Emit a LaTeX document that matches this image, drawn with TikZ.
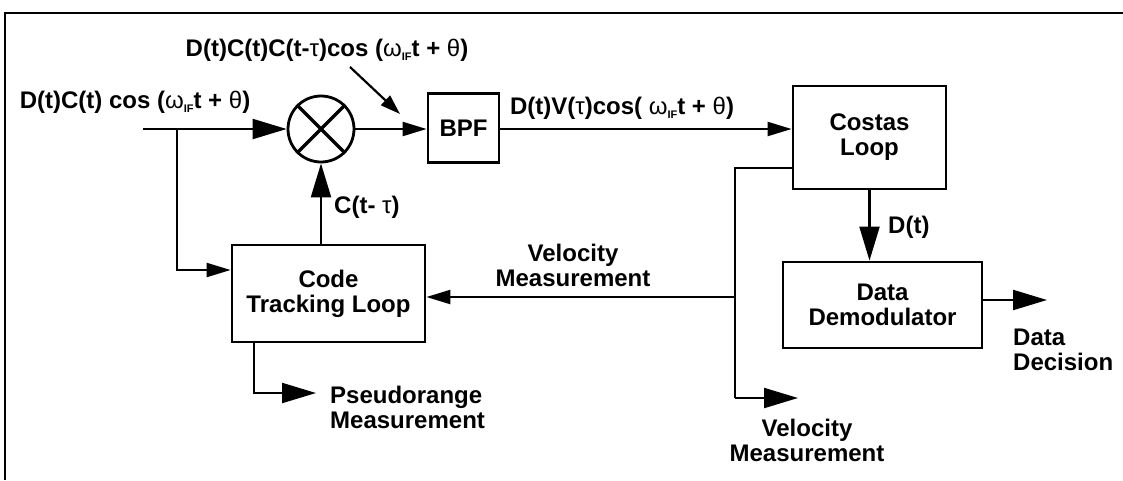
\documentclass[tikz,border=0pt]{standalone}
\usepackage{fontspec}
\setmainfont{Liberation Sans}
\usetikzlibrary{arrows.meta}
\newcommand\wif{{\mdseries ω}\raisebox{-4pt}{\fontsize{11}{11}\selectfont IF}}
\begin{document}
\begin{tikzpicture}[x=1pt,y=-1pt,
  lbl/.style={font=\fontsize{24}{25}\selectfont\bfseries, inner sep=0pt, align=center},
  blk/.style={draw, line width=2.8pt, inner sep=0pt, align=center, font=\fontsize{24}{25}\selectfont\bfseries},
  ln/.style={line width=2.2pt},
  bigarr/.style={-{Triangle[length=34pt,width=20pt]}},
  smallarr/.style={-{Triangle[length=24pt,width=14pt]}},
  medarr/.style={-{Triangle[length=20pt,width=13pt]}}]
\useasboundingbox (0,0) rectangle (1123,480);
% frame
\draw[line width=2.4pt] (5,480) -- (5,13) -- (1123,13);
% blocks
\node[draw, circle, line width=2.8pt, minimum size=66pt, inner sep=0pt] (mul) at (321,129) {};
\draw[line width=3.2pt] (mul.north west) -- (mul.south east) (mul.north east) -- (mul.south west);
\node[blk, minimum width=71pt, minimum height=69pt] (bpf) at (463.5,128) {BPF};
\node[blk, minimum width=153pt, minimum height=103pt] (cost) at (869.5,137.5) {Costas\\Loop};
\node[blk, minimum width=193pt, minimum height=97pt] (code) at (328.5,293.5) {Code\\Tracking Loop};
\node[blk, minimum width=199pt, minimum height=86pt] (demod) at (882.5,305) {Data\\Demodulator};
% labels
\node[lbl] (inlab) at (135,102) {D(t)C(t) cos (\wif t + {\mdseries θ})};
\node[lbl] (toplab) at (327,50) {D(t)C(t)C(t-{\mdseries τ})cos (\wif t + {\mdseries θ})};
\node[lbl] (bpflab) at (622,108) {D(t)V({\mdseries τ})cos( \wif t + {\mdseries θ})};
\node[lbl, anchor=west] (ctau) at (334,207) {C(t- {\mdseries τ})};
\node[lbl] (vel1) at (573,265) {Velocity\\Measurement};
\node[lbl, anchor=west, align=left] (pr) at (330,407) {Pseudorange\\Measurement};
\node[lbl, anchor=west] (dt) at (888,227) {D(t)};
\node[lbl, anchor=west, align=left] (ddec) at (1013,350) {Data\\Decision};
\node[lbl] (vel2) at (807,440) {Velocity\\Measurement};
% coordinates
\coordinate (in) at (143,129);
\coordinate (br) at (177,129);
\coordinate (brd) at (177,270);
\coordinate (pa) at (254,393);
\coordinate (pb) at (316,393);
\coordinate (vb) at (735,168);
\coordinate (vj) at (735,297);
\coordinate (vd) at (735,398);
\coordinate (vo) at (798,398);
\coordinate (dout) at (1047,300);
\coordinate (d1) at (350,67);
\coordinate (d2) at (400,114);
% connectors
\draw[ln,bigarr] (in) -- (mul.west);
\draw[ln,smallarr] (br) -- (brd) -- (brd -| code.west);
\draw[ln,bigarr] (code.north -| mul.south) -- (mul.south);
\draw[ln,smallarr] (mul.east) -- (bpf.west |- mul.east);
\draw[ln,medarr] (d1) -- (d2);
\draw[ln,smallarr] (bpf.east |- mul.east) -- (cost.west |- mul.east);
\draw[ln,bigarr] (code.south -| pa) -- (pa) -- (pb);
\draw[ln] (cost.west |- vb) -- (vb) -- (vd);
\draw[ln,bigarr] (vd) -- (vo);
\draw[ln,smallarr] (vj) -- (vj -| code.east);
\draw[ln,bigarr] (cost.south) -- (cost.south |- demod.north);
\draw[ln,bigarr] (demod.east |- dout) -- (dout);
\end{tikzpicture}
\end{document}
